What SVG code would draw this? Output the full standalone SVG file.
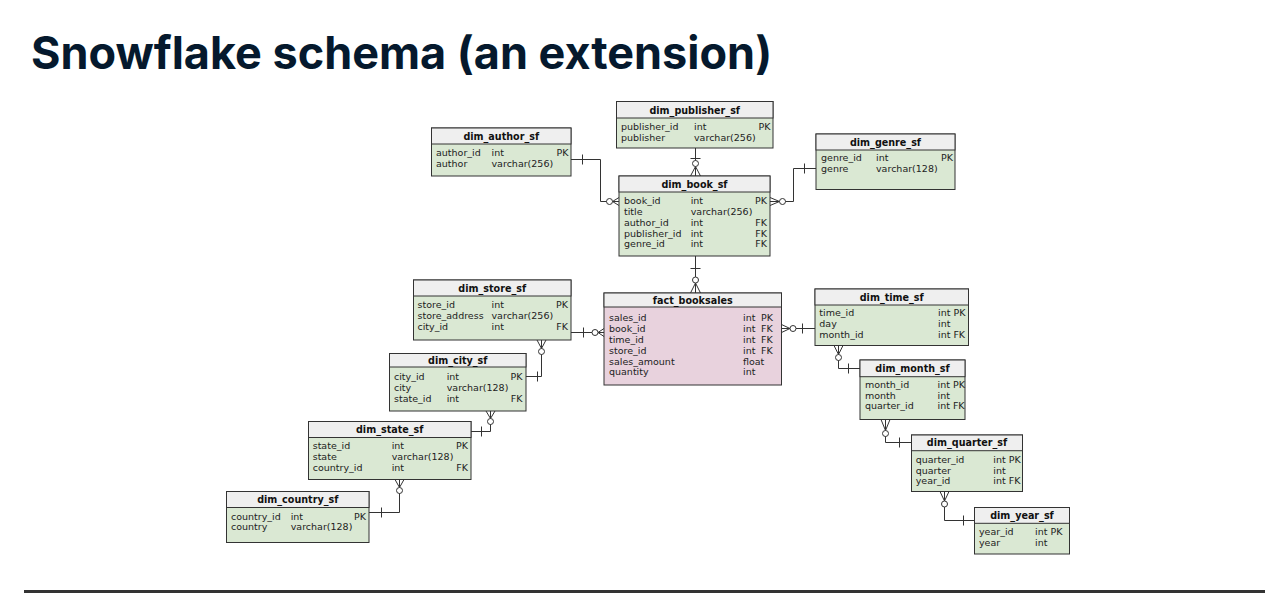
<svg xmlns="http://www.w3.org/2000/svg" width="1265" height="593" viewBox="0 0 1265 593">
<style>
.body{fill:#dae8d3;stroke:#333;stroke-width:1}
.fact{fill:#e8d2dd;stroke:#333;stroke-width:1}
.head{fill:#efefef;stroke:#333;stroke-width:1}
.t{font-family:"DejaVu Sans",sans-serif;font-size:9.5px;fill:#222}
.h{font-family:"DejaVu Sans",sans-serif;font-size:9.6px;font-weight:bold;fill:#111;text-anchor:middle}
.r{text-anchor:end}
.title{font-family:Inter,"Open Sans",sans-serif;font-size:45px;font-weight:700;fill:#05192d}
.c path{fill:none;stroke:#333;stroke-width:1}
.c circle{fill:#fff;stroke:#333;stroke-width:1}
</style>
<rect width="1265" height="593" fill="#fff"/>
<text class="title" x="31" y="69">Snowflake schema (an extension)</text>
<rect x="24" y="590" width="1241" height="3" fill="#333"/>

<g class="c" id="connectors">
<!-- author - book -->
<path d="M571,159.5 H600.5 V201.5 H619"/>
<path d="M582.5,154.5 V164.5"/>
<path d="M612.5,201.5 L619,197.5 M612.5,201.5 L619,205.5"/>
<circle cx="609.5" cy="201.5" r="3"/>
<!-- publisher - book -->
<path d="M695.5,148 V176"/>
<path d="M690.5,158.5 H700.5"/>
<path d="M695.5,166.5 L690.5,176 M695.5,166.5 L700.5,176"/>
<circle cx="695.5" cy="163.5" r="3"/>
<!-- genre - book -->
<path d="M770,201.5 H793.5 V168.5 H816"/>
<path d="M804.5,163.5 V173.5"/>
<path d="M779.5,201.5 L770,197.5 M779.5,201.5 L770,205.5"/>
<circle cx="782.5" cy="201.5" r="3"/>
<!-- book - fact -->
<path d="M695.5,256 V293"/>
<path d="M690.5,268.5 H700.5"/>
<path d="M695.5,283 L690.5,293 M695.5,283 L700.5,293"/>
<circle cx="695.5" cy="280" r="3"/>
<!-- store - fact -->
<path d="M571,332.5 H604"/>
<path d="M583.5,327.5 V337.5"/>
<path d="M598,332.5 L604,328.5 M598,332.5 L604,336.5"/>
<circle cx="595" cy="332.5" r="3"/>
<!-- time - fact -->
<path d="M781.5,328.5 H815"/>
<path d="M802.5,323.5 V333.5"/>
<path d="M790,328.5 L781.5,324.5 M790,328.5 L781.5,332.5"/>
<circle cx="793" cy="328.5" r="3"/>
<!-- store - city -->
<path d="M541.5,340 V376.5 H526"/>
<path d="M537.5,371.5 V381.5"/>
<path d="M541.5,348.5 L537,340 M541.5,348.5 L546,340"/>
<circle cx="541.5" cy="351.5" r="3"/>
<!-- city - state -->
<path d="M490.5,411 V431.5 H471"/>
<path d="M481.5,426.5 V436.5"/>
<path d="M490.5,418.5 L486,411 M490.5,418.5 L495,411"/>
<circle cx="490.5" cy="421.5" r="3"/>
<!-- state - country -->
<path d="M399.5,479.5 V512.5 H369"/>
<path d="M381.5,507.5 V517.5"/>
<path d="M399.5,487.5 L395,479.5 M399.5,487.5 L404,479.5"/>
<circle cx="399.5" cy="490.5" r="3"/>
<!-- time - month -->
<path d="M838.5,345.5 V368.5 H860"/>
<path d="M848.5,363.5 V373.5"/>
<path d="M838.5,354.5 L834,345.5 M838.5,354.5 L843,345.5"/>
<circle cx="838.5" cy="357.5" r="3"/>
<!-- month - quarter -->
<path d="M885.5,419.5 V442.5 H911.5"/>
<path d="M899.5,437.5 V447.5"/>
<path d="M885.5,430.5 L881,419.5 M885.5,430.5 L890,419.5"/>
<circle cx="885.5" cy="433.5" r="3"/>
<!-- quarter - year -->
<path d="M944.5,491.5 V520.5 H974.5"/>
<path d="M963.5,515.5 V525.5"/>
<path d="M944.5,501 L940,491.5 M944.5,501 L949,491.5"/>
<circle cx="944.5" cy="504" r="3"/>
</g>

<g id="dim_publisher_sf">
<rect class="body" x="616.5" y="101.5" width="156.5" height="46.5"/>
<rect class="head" x="616.5" y="101.5" width="156.5" height="16.5"/>
<text class="h" x="694.75" y="113.5">dim_publisher_sf</text>
<text class="t" x="621" y="130.2">publisher_id</text><text class="t" x="694" y="130.2">int</text><text class="t r" x="770.5" y="130.2">PK</text>
<text class="t" x="621" y="141.2">publisher</text><text class="t" x="694" y="141.2">varchar(256)</text>
</g>

<g id="dim_author_sf">
<rect class="body" x="431.5" y="128" width="139.5" height="48"/>
<rect class="head" x="431.5" y="128" width="139.5" height="16"/>
<text class="h" x="501.25" y="139.5">dim_author_sf</text>
<text class="t" x="436" y="156">author_id</text><text class="t" x="491.5" y="156">int</text><text class="t r" x="568.5" y="156">PK</text>
<text class="t" x="436" y="167">author</text><text class="t" x="491.5" y="167">varchar(256)</text>
</g>

<g id="dim_book_sf">
<rect class="body" x="619" y="176" width="151" height="80"/>
<rect class="head" x="619" y="176" width="151" height="16"/>
<text class="h" x="694.5" y="187.5">dim_book_sf</text>
<text class="t" x="624" y="204.2">book_id</text><text class="t" x="690.7" y="204.2">int</text><text class="t r" x="767" y="204.2">PK</text>
<text class="t" x="624" y="215">title</text><text class="t" x="690.7" y="215">varchar(256)</text>
<text class="t" x="624" y="225.8">author_id</text><text class="t" x="690.7" y="225.8">int</text><text class="t r" x="767" y="225.8">FK</text>
<text class="t" x="624" y="236.6">publisher_id</text><text class="t" x="690.7" y="236.6">int</text><text class="t r" x="767" y="236.6">FK</text>
<text class="t" x="624" y="247.4">genre_id</text><text class="t" x="690.7" y="247.4">int</text><text class="t r" x="767" y="247.4">FK</text>
</g>

<g id="dim_genre_sf">
<rect class="body" x="816" y="134" width="139" height="55.5"/>
<rect class="head" x="816" y="134" width="139" height="16"/>
<text class="h" x="885.5" y="145.5">dim_genre_sf</text>
<text class="t" x="821" y="161.2">genre_id</text><text class="t" x="876" y="161.2">int</text><text class="t r" x="953" y="161.2">PK</text>
<text class="t" x="821" y="172">genre</text><text class="t" x="876" y="172">varchar(128)</text>
</g>

<g id="fact_booksales">
<rect class="fact" x="604" y="293" width="177.5" height="92"/>
<rect class="head" x="604" y="293" width="177.5" height="14"/>
<text class="h" x="692.75" y="303.5">fact_booksales</text>
<text class="t" x="609" y="321.2">sales_id</text><text class="t" x="743" y="321.2">int</text><text class="t" x="761" y="321.2">PK</text>
<text class="t" x="609" y="332">book_id</text><text class="t" x="743" y="332">int</text><text class="t" x="761" y="332">FK</text>
<text class="t" x="609" y="342.8">time_id</text><text class="t" x="743" y="342.8">int</text><text class="t" x="761" y="342.8">FK</text>
<text class="t" x="609" y="353.7">store_id</text><text class="t" x="743" y="353.7">int</text><text class="t" x="761" y="353.7">FK</text>
<text class="t" x="609" y="364.5">sales_amount</text><text class="t" x="743" y="364.5">float</text>
<text class="t" x="609" y="375.4">quantity</text><text class="t" x="743" y="375.4">int</text>
</g>

<g id="dim_store_sf">
<rect class="body" x="413.5" y="280" width="157.5" height="60"/>
<rect class="head" x="413.5" y="280" width="157.5" height="16"/>
<text class="h" x="492.25" y="291.5">dim_store_sf</text>
<text class="t" x="417.5" y="307.5">store_id</text><text class="t" x="491.5" y="307.5">int</text><text class="t r" x="568" y="307.5">PK</text>
<text class="t" x="417.5" y="318.5">store_address</text><text class="t" x="491.5" y="318.5">varchar(256)</text>
<text class="t" x="417.5" y="329.5">city_id</text><text class="t" x="491.5" y="329.5">int</text><text class="t r" x="568" y="329.5">FK</text>
</g>

<g id="dim_city_sf">
<rect class="body" x="389.5" y="353.5" width="136.5" height="57.5"/>
<rect class="head" x="389.5" y="353.5" width="136.5" height="13.5"/>
<text class="h" x="457.75" y="363.8">dim_city_sf</text>
<text class="t" x="394" y="379.5">city_id</text><text class="t" x="446.7" y="379.5">int</text><text class="t r" x="522.5" y="379.5">PK</text>
<text class="t" x="394" y="390.5">city</text><text class="t" x="446.7" y="390.5">varchar(128)</text>
<text class="t" x="394" y="401.5">state_id</text><text class="t" x="446.7" y="401.5">int</text><text class="t r" x="522.5" y="401.5">FK</text>
</g>

<g id="dim_state_sf">
<rect class="body" x="308.5" y="421.5" width="162.5" height="58"/>
<rect class="head" x="308.5" y="421.5" width="162.5" height="16"/>
<text class="h" x="389.75" y="433">dim_state_sf</text>
<text class="t" x="312.7" y="449">state_id</text><text class="t" x="391.7" y="449">int</text><text class="t r" x="468" y="449">PK</text>
<text class="t" x="312.7" y="459.8">state</text><text class="t" x="391.7" y="459.8">varchar(128)</text>
<text class="t" x="312.7" y="470.6">country_id</text><text class="t" x="391.7" y="470.6">int</text><text class="t r" x="468" y="470.6">FK</text>
</g>

<g id="dim_country_sf">
<rect class="body" x="226.5" y="491.5" width="142.5" height="51"/>
<rect class="head" x="226.5" y="491.5" width="142.5" height="16"/>
<text class="h" x="297.75" y="503">dim_country_sf</text>
<text class="t" x="231" y="519.5">country_id</text><text class="t" x="290.7" y="519.5">int</text><text class="t r" x="366" y="519.5">PK</text>
<text class="t" x="231" y="530.3">country</text><text class="t" x="290.7" y="530.3">varchar(128)</text>
</g>

<g id="dim_time_sf">
<rect class="body" x="815" y="289" width="153.5" height="56.5"/>
<rect class="head" x="815" y="289" width="153.5" height="16"/>
<text class="h" x="891.75" y="300.5">dim_time_sf</text>
<text class="t" x="819.3" y="316.2">time_id</text><text class="t" x="938" y="316.2">int PK</text>
<text class="t" x="819.3" y="327">day</text><text class="t" x="938" y="327">int</text>
<text class="t" x="819.3" y="337.6">month_id</text><text class="t" x="938" y="337.6">int FK</text>
</g>

<g id="dim_month_sf">
<rect class="body" x="860" y="360" width="105" height="59.5"/>
<rect class="head" x="860" y="360" width="105" height="16.7"/>
<text class="h" x="912.5" y="371.8">dim_month_sf</text>
<text class="t" x="865" y="387.8">month_id</text><text class="t" x="937.5" y="387.8">int PK</text>
<text class="t" x="865" y="398.6">month</text><text class="t" x="937.5" y="398.6">int</text>
<text class="t" x="865" y="409.4">quarter_id</text><text class="t" x="937.5" y="409.4">int FK</text>
</g>

<g id="dim_quarter_sf">
<rect class="body" x="911.5" y="435" width="111" height="56.5"/>
<rect class="head" x="911.5" y="435" width="111" height="15.7"/>
<text class="h" x="967" y="446.3">dim_quarter_sf</text>
<text class="t" x="915.7" y="462.8">quarter_id</text><text class="t" x="993.3" y="462.8">int PK</text>
<text class="t" x="915.7" y="473.6">quarter</text><text class="t" x="993.3" y="473.6">int</text>
<text class="t" x="915.7" y="484.4">year_id</text><text class="t" x="993.3" y="484.4">int FK</text>
</g>

<g id="dim_year_sf">
<rect class="body" x="974.5" y="507.5" width="95" height="46.5"/>
<rect class="head" x="974.5" y="507.5" width="95" height="15.8"/>
<text class="h" x="1022" y="518.8">dim_year_sf</text>
<text class="t" x="979" y="534.8">year_id</text><text class="t" x="1035" y="534.8">int PK</text>
<text class="t" x="979" y="545.6">year</text><text class="t" x="1035" y="545.6">int</text>
</g>
</svg>
